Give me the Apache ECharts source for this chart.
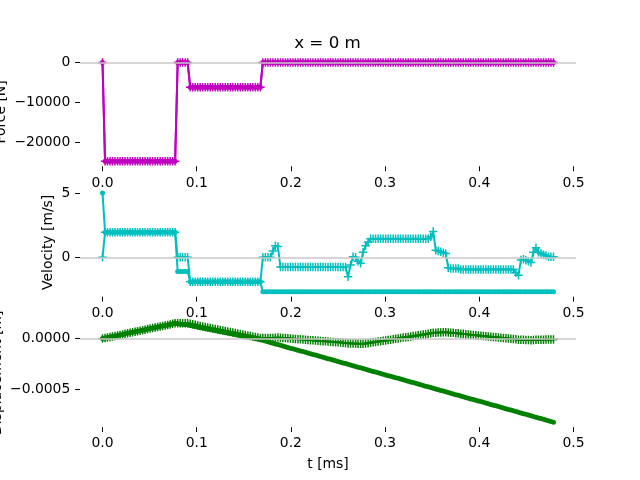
<!DOCTYPE html>
<html>
<head>
<meta charset="utf-8">
<script src="https://cdn.jsdelivr.net/npm/echarts@6/dist/echarts.min.js"></script>
<style>
  html, body { margin: 0; padding: 0; background: #fff; }
  #chart { width: 640px; height: 480px; }
</style>
</head>
<body>
<div id="chart"></div>
<script>
// sample times [ms]
const tMs = [
  0.0000, 0.0027, 0.0053, 0.0080, 0.0106, 0.0133, 0.0160, 0.0186, 0.0213, 0.0239,
  0.0266, 0.0293, 0.0319, 0.0346, 0.0372, 0.0399, 0.0426, 0.0452, 0.0479, 0.0505,
  0.0532, 0.0559, 0.0585, 0.0612, 0.0638, 0.0665, 0.0692, 0.0718, 0.0745, 0.0771,
  0.0798, 0.0825, 0.0851, 0.0878, 0.0904, 0.0931, 0.0958, 0.0984, 0.1011, 0.1037,
  0.1064, 0.1091, 0.1117, 0.1144, 0.1170, 0.1197, 0.1224, 0.1250, 0.1277, 0.1303,
  0.1330, 0.1357, 0.1383, 0.1410, 0.1436, 0.1463, 0.1490, 0.1516, 0.1543, 0.1569,
  0.1596, 0.1623, 0.1649, 0.1676, 0.1702, 0.1729, 0.1756, 0.1782, 0.1809, 0.1835,
  0.1862, 0.1889, 0.1915, 0.1942, 0.1968, 0.1995, 0.2022, 0.2048, 0.2075, 0.2101,
  0.2128, 0.2155, 0.2181, 0.2208, 0.2234, 0.2261, 0.2288, 0.2314, 0.2341, 0.2367,
  0.2394, 0.2421, 0.2447, 0.2474, 0.2500, 0.2527, 0.2554, 0.2580, 0.2607, 0.2633,
  0.2660, 0.2687, 0.2713, 0.2740, 0.2766, 0.2793, 0.2820, 0.2846, 0.2873, 0.2899,
  0.2926, 0.2953, 0.2979, 0.3006, 0.3032, 0.3059, 0.3086, 0.3112, 0.3139, 0.3165,
  0.3192, 0.3219, 0.3245, 0.3272, 0.3298, 0.3325, 0.3352, 0.3378, 0.3405, 0.3431,
  0.3458, 0.3485, 0.3511, 0.3538, 0.3564, 0.3591, 0.3618, 0.3644, 0.3671, 0.3697,
  0.3724, 0.3751, 0.3777, 0.3804, 0.3830, 0.3857, 0.3884, 0.3910, 0.3937, 0.3963,
  0.3990, 0.4017, 0.4043, 0.4070, 0.4096, 0.4123, 0.4150, 0.4176, 0.4203, 0.4229,
  0.4256, 0.4283, 0.4309, 0.4336, 0.4362, 0.4389, 0.4416, 0.4442, 0.4469, 0.4495,
  0.4522, 0.4549, 0.4575, 0.4602, 0.4628, 0.4655, 0.4682, 0.4708, 0.4735, 0.4761,
  0.4788
];

// force [N]
const forceN = [
  0, -24800, -24800, -24800, -24800, -24800, -24800, -24800, -24800, -24800,
  -24800, -24800, -24800, -24800, -24800, -24800, -24800, -24800, -24800, -24800,
  -24800, -24800, -24800, -24800, -24800, -24800, -24800, -24800, -24800, -24800,
  0, 0, 0, 0, 0, -6200, -6200, -6200, -6200, -6200,
  -6200, -6200, -6200, -6200, -6200, -6200, -6200, -6200, -6200, -6200,
  -6200, -6200, -6200, -6200, -6200, -6200, -6200, -6200, -6200, -6200,
  -6200, -6200, -6200, -6200, 0, 0, 0, 0, 0, 0,
  0, 0, 0, 0, 0, 0, 0, 0, 0, 0,
  0, 0, 0, 0, 0, 0, 0, 0, 0, 0,
  0, 0, 0, 0, 0, 0, 0, 0, 0, 0,
  0, 0, 0, 0, 0, 0, 0, 0, 0, 0,
  0, 0, 0, 0, 0, 0, 0, 0, 0, 0,
  0, 0, 0, 0, 0, 0, 0, 0, 0, 0,
  0, 0, 0, 0, 0, 0, 0, 0, 0, 0,
  0, 0, 0, 0, 0, 0, 0, 0, 0, 0,
  0, 0, 0, 0, 0, 0, 0, 0, 0, 0,
  0, 0, 0, 0, 0, 0, 0, 0, 0, 0,
  0, 0, 0, 0, 0, 0, 0, 0, 0, 0,
  0
];

// velocity [m/s], '+' markers
const velA = [
  0, 1.95, 1.95, 1.95, 1.95, 1.95, 1.95, 1.95, 1.95, 1.95,
  1.95, 1.95, 1.95, 1.95, 1.95, 1.95, 1.95, 1.95, 1.95, 1.95,
  1.95, 1.95, 1.95, 1.95, 1.95, 1.95, 1.95, 1.95, 1.95, 1.95,
  0, 0, 0, 0, 0, -1.9, -1.9, -1.9, -1.9, -1.9,
  -1.9, -1.9, -1.9, -1.9, -1.9, -1.9, -1.9, -1.9, -1.9, -1.9,
  -1.9, -1.9, -1.9, -1.9, -1.9, -1.9, -1.9, -1.9, -1.9, -1.9,
  -1.9, -1.9, -1.9, -1.9, 0, 0, 0, 0, 0.5, 0.9,
  0.85, -0.75, -0.75, -0.75, -0.75, -0.75, -0.75, -0.75, -0.75, -0.75,
  -0.75, -0.75, -0.75, -0.75, -0.75, -0.75, -0.75, -0.75, -0.75, -0.75,
  -0.75, -0.75, -0.75, -0.75, -0.75, -0.75, -0.75, -0.75, -1.5, -0.6,
  0.05, 0.0, -0.3, -0.45, 0.4, 0.9, 1.2, 1.44, 1.44, 1.44,
  1.44, 1.44, 1.44, 1.44, 1.44, 1.44, 1.44, 1.44, 1.44, 1.44,
  1.44, 1.44, 1.44, 1.44, 1.44, 1.44, 1.44, 1.44, 1.44, 1.44,
  1.44, 1.6, 2.0, 0.55, 0.5, 0.44, 0.36, 0.3, -0.8, -0.87,
  -0.87, -0.87, -0.87, -0.95, -0.95, -0.95, -0.95, -0.95, -0.95, -0.95,
  -0.95, -0.95, -0.95, -0.95, -0.95, -0.95, -0.95, -0.95, -0.95, -0.95,
  -0.95, -0.95, -0.95, -0.95, -0.95, -1.2, -1.38, -0.2, -0.15, -0.23,
  -0.3, -0.4, 0.4, 0.74, 0.4, 0.3, 0.2, 0.15, 0.05, 0.05,
  0.05
];

// velocity [m/s], '.' markers
const velB = [
  5, 1.95, 1.95, 1.95, 1.95, 1.95, 1.95, 1.95, 1.95, 1.95,
  1.95, 1.95, 1.95, 1.95, 1.95, 1.95, 1.95, 1.95, 1.95, 1.95,
  1.95, 1.95, 1.95, 1.95, 1.95, 1.95, 1.95, 1.95, 1.95, 1.95,
  -1.1, -1.1, -1.1, -1.1, -1.1, -1.9, -1.9, -1.9, -1.9, -1.9,
  -1.9, -1.9, -1.9, -1.9, -1.9, -1.9, -1.9, -1.9, -1.9, -1.9,
  -1.9, -1.9, -1.9, -1.9, -1.9, -1.9, -1.9, -1.9, -1.9, -1.9,
  -1.9, -1.9, -1.9, -1.9, -2.67, -2.67, -2.67, -2.67, -2.67, -2.67,
  -2.67, -2.67, -2.67, -2.67, -2.67, -2.67, -2.67, -2.67, -2.67, -2.67,
  -2.67, -2.67, -2.67, -2.67, -2.67, -2.67, -2.67, -2.67, -2.67, -2.67,
  -2.67, -2.67, -2.67, -2.67, -2.67, -2.67, -2.67, -2.67, -2.67, -2.67,
  -2.67, -2.67, -2.67, -2.67, -2.67, -2.67, -2.67, -2.67, -2.67, -2.67,
  -2.67, -2.67, -2.67, -2.67, -2.67, -2.67, -2.67, -2.67, -2.67, -2.67,
  -2.67, -2.67, -2.67, -2.67, -2.67, -2.67, -2.67, -2.67, -2.67, -2.67,
  -2.67, -2.67, -2.67, -2.67, -2.67, -2.67, -2.67, -2.67, -2.67, -2.67,
  -2.67, -2.67, -2.67, -2.67, -2.67, -2.67, -2.67, -2.67, -2.67, -2.67,
  -2.67, -2.67, -2.67, -2.67, -2.67, -2.67, -2.67, -2.67, -2.67, -2.67,
  -2.67, -2.67, -2.67, -2.67, -2.67, -2.67, -2.67, -2.67, -2.67, -2.67,
  -2.67, -2.67, -2.67, -2.67, -2.67, -2.67, -2.67, -2.67, -2.67, -2.67,
  -2.67
];

// displacement [µm], '+' markers
const dispA_um = [
  0, 5, 10, 16, 21, 26, 31, 36, 42, 47,
  52, 57, 62, 68, 73, 78, 83, 88, 94, 99,
  104, 109, 114, 120, 125, 130, 135, 140, 146, 151,
  151, 151, 151, 151, 151, 146, 141, 136, 131, 126,
  121, 116, 111, 106, 101, 96, 91, 86, 81, 76,
  71, 66, 61, 56, 51, 46, 41, 36, 31, 26,
  21, 16, 11, 6, 6, 6, 6, 6, 7, 9,
  11, 9, 7, 5, 3, 1, -1, -3, -5, -7,
  -9, -11, -13, -15, -17, -19, -21, -23, -25, -27,
  -29, -31, -33, -35, -37, -39, -41, -43, -47, -49,
  -49, -49, -50, -51, -50, -48, -45, -41, -37, -33,
  -29, -25, -21, -18, -14, -10, -6, -2, 2, 6,
  10, 14, 17, 21, 25, 29, 33, 37, 40, 44,
  48, 52, 58, 59, 60, 61, 62, 63, 61, 59,
  57, 54, 52, 49, 47, 44, 42, 39, 37, 34,
  32, 29, 27, 24, 21, 19, 16, 14, 11, 9,
  6, 4, 1, -2, -4, -7, -11, -12, -12, -13,
  -14, -15, -14, -12, -11, -10, -10, -9, -9, -9,
  -9
];

// displacement [µm], '.' markers
const dispB_um = [
  0, 5, 10, 16, 21, 26, 31, 36, 42, 47,
  52, 57, 62, 68, 73, 78, 83, 88, 94, 99,
  104, 109, 114, 120, 125, 130, 135, 140, 146, 151,
  148, 145, 142, 139, 136, 131, 126, 121, 116, 111,
  106, 101, 96, 91, 86, 81, 76, 71, 66, 61,
  56, 51, 46, 41, 36, 31, 26, 21, 16, 11,
  6, 1, -4, -9, -17, -24, -31, -38, -45, -52,
  -59, -66, -73, -80, -87, -94, -101, -108, -115, -122,
  -128, -135, -142, -149, -156, -163, -170, -177, -184, -191,
  -198, -205, -212, -219, -226, -233, -240, -247, -254, -261,
  -268, -275, -282, -289, -296, -303, -310, -317, -324, -331,
  -338, -345, -352, -359, -366, -373, -379, -386, -393, -400,
  -407, -414, -421, -428, -435, -442, -449, -456, -463, -470,
  -477, -484, -491, -498, -505, -512, -519, -526, -533, -540,
  -547, -554, -561, -568, -575, -582, -589, -596, -603, -610,
  -617, -623, -630, -637, -644, -651, -658, -665, -672, -679,
  -686, -693, -700, -707, -714, -721, -728, -735, -742, -749,
  -756, -763, -770, -777, -784, -791, -798, -805, -812, -819,
  -826
];

const xTicks = [0, 0.1, 0.2, 0.3, 0.4, 0.5];
const forceTicks = [-20000, -10000, 0];
const velTicks = [0, 5];
const dispTicks = [-0.0005, 0];

const FONT = 'DejaVu Sans';
const MAG = '#bf00bf', CYAN = '#00bfbf', GREEN = '#008000';
const PLUS = 'path://M0,3.3H8V4.7H0Z M3.3,0H4.7V8H3.3Z';

function minus(s) { return s.replace('-', '\u2212'); }

const tops = [57.6, 188.0, 318.4];
const grids = tops.map(t => ({ left: 80, width: 496, top: t, height: 108.7, outerBoundsMode: 'none' }));

const xAxes = tops.map((t, i) => ({
  type: 'value', gridIndex: i, min: -0.0239, max: 0.5027,
  axisLine: { show: false, onZero: false },
  splitLine: { show: false },
  axisTick: { show: true, length: 4.9, customValues: xTicks, lineStyle: { color: '#000', width: 1 } },
  axisLabel: { customValues: xTicks, margin: 9.7, color: '#000', fontFamily: FONT, fontSize: 13.9,
    formatter: v => v.toFixed(1) },
  name: i === 2 ? 't [ms]' : '', nameLocation: 'middle', nameGap: 30,
  nameTextStyle: { color: '#000', fontFamily: FONT, fontSize: 13.9 }
}));

function yAxis(i, min, max, ticks, fmt, name, gap) {
  return {
    type: 'value', gridIndex: i, min: min, max: max,
    axisLine: { show: false, onZero: false },
    splitLine: { show: false },
    axisTick: { show: true, length: 4.9, customValues: ticks, lineStyle: { color: '#000', width: 1 } },
    axisLabel: { customValues: ticks, margin: 9.7, color: '#000', fontFamily: FONT, fontSize: 13.9, formatter: fmt },
    name: name, nameLocation: 'middle', nameRotate: 90, nameGap: gap, nameMoveOverlap: false,
    nameTextStyle: { color: '#000', fontFamily: FONT, fontSize: 13.9 }
  };
}

const yAxes = [
  yAxis(0, -26040, 1240, forceTicks, v => minus(String(v)), 'Force [N]', 72),
  yAxis(1, -3.053, 5.383, velTicks, v => minus(String(v)), 'Velocity [m/s]', 25),
  yAxis(2, -0.000875, 0.0002, dispTicks, v => minus(v.toFixed(4)), 'Displacement [m]', 76)
];

function pairs(vals, k) { return tMs.map((t, i) => [t, vals[i] * k]); }

function zeroLine(i) {
  return {
    type: 'line', xAxisIndex: i, yAxisIndex: i, data: [], z: 1, silent: true,
    markLine: { silent: true, symbol: 'none', label: { show: false },
      lineStyle: { color: '#c8c8c8', width: 1.5, type: 'solid' }, data: [{ yAxis: 0 }] }
  };
}

function dots(i, vals, k, color) {
  return {
    type: 'line', xAxisIndex: i, yAxisIndex: i, data: pairs(vals, k), z: 2,
    showAllSymbol: true, symbol: 'circle', symbolSize: 5,
    itemStyle: { color: color, borderWidth: 0 },
    lineStyle: { color: color, width: 2 }
  };
}

function plus(i, vals, k, color) {
  return {
    type: 'line', xAxisIndex: i, yAxisIndex: i, data: pairs(vals, k), z: 3,
    showAllSymbol: true, symbol: PLUS, symbolSize: 8.5,
    itemStyle: { color: color, borderWidth: 0 },
    lineStyle: { color: color, width: 2 }
  };
}

const chart = echarts.init(document.getElementById('chart'), null, { renderer: 'canvas' });
chart.setOption({
  animation: false,
  backgroundColor: '#fff',
  title: {
    text: 'x = 0 m', left: 327.5, top: 35, textAlign: 'center', padding: 0,
    textStyle: { color: '#000', fontFamily: FONT, fontSize: 16.7, fontWeight: 'normal' }
  },
  grid: grids,
  xAxis: xAxes,
  yAxis: yAxes,
  series: [
    zeroLine(0), zeroLine(1), zeroLine(2),
    dots(0, forceN, 1, MAG), plus(0, forceN, 1, MAG),
    dots(1, velB, 1, CYAN), plus(1, velA, 1, CYAN),
    dots(2, dispB_um, 1e-6, GREEN), plus(2, dispA_um, 1e-6, GREEN)
  ]
});
</script>
</body>
</html>
